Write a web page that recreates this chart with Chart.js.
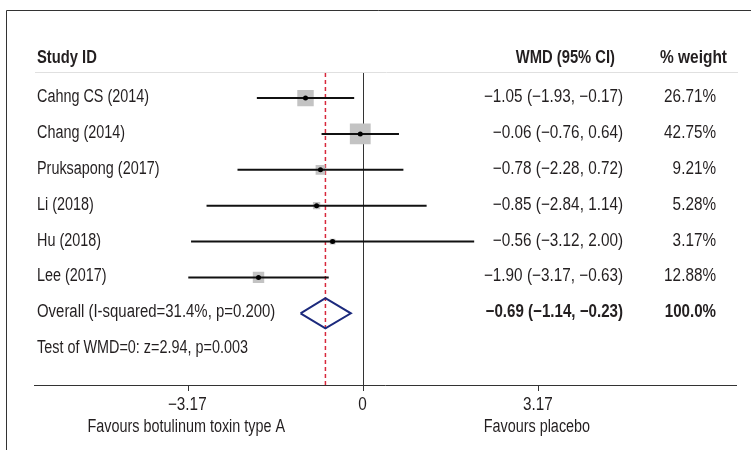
<!DOCTYPE html>
<html>
<head>
<meta charset="utf-8">
<script src="https://cdn.jsdelivr.net/npm/chart.js@4"></script>
<style>
  body { margin: 0; background: #fff; }
  #wrap { width: 751px; height: 450px; }
</style>
</head>
<body>
<div id="wrap"><canvas id="forest" width="751" height="450"></canvas></div>
<script>
const studies = ["Cahng CS (2014)", "Chang (2014)", "Pruksapong (2017)", "Li (2018)", "Hu (2018)", "Lee (2017)"];
const wmd = [-1.05, -0.06, -0.78, -0.85, -0.56, -1.90];
const ciLow = [-1.93, -0.76, -2.28, -2.84, -3.12, -3.17];
const ciHigh = [-0.17, 0.64, 0.72, 1.14, 2.00, -0.63];
const weights = [26.71, 42.75, 9.21, 5.28, 3.17, 12.88];

const overallWmd = -0.69;
const overallLow = -1.14;
const overallHigh = -0.23;
const overallLabel = "Overall (I-squared=31.4%, p=0.200)";
const testLabel = "Test of WMD=0: z=2.94, p=0.003";

const tickValues = [-3.17, 0, 3.17];
const tickLabels = ["\u22123.17", "0", "3.17"];
const sideLabels = ["Favours botulinum toxin type A", "", "Favours placebo"];

const FONT = "'Liberation Sans', Arial, sans-serif";
const TEXT = "#231f20";

// rows: studies on 1..6, overall on 7, test line on 8
const rows = studies.map((s, i) => i + 1);
const overallRow = studies.length + 1;
const testRow = studies.length + 2;

const fmt = v => (v < 0 ? "\u2212" : "") + Math.abs(v).toFixed(2);

// reference uses a condensed face, so squeeze the text horizontally
function text(c, str, x, y, align, bold, sx) {
  c.save();
  c.font = (bold ? "bold " : "") + "18px " + FONT;
  c.textAlign = align;
  c.translate(x, y);
  c.scale(sx || (bold ? 0.82 : 0.8), 1);
  c.fillText(str, 0, 0);
  c.restore();
}

const ciSets = studies.map((s, i) => ({
  type: "line",
  data: [{ x: ciLow[i], y: rows[i] }, { x: ciHigh[i], y: rows[i] }],
  borderColor: "#111",
  borderWidth: 2,
  pointRadius: 0,
  order: 1
}));

// text columns, frame and header line
const tablePlugin = {
  id: "table",
  beforeDraw(chart) {
    const c = chart.ctx;
    c.save();
    c.strokeStyle = "#333";
    c.lineWidth = 1;
    c.beginPath();
    c.moveTo(6.5, 450);
    c.lineTo(6.5, 10.5);
    c.lineTo(751, 10.5);
    c.stroke();
    c.strokeStyle = "#e0e0e0";
    c.beginPath();
    c.moveTo(35, 72.5);
    c.lineTo(738, 72.5);
    c.stroke();
    c.restore();
  },
  afterDraw(chart) {
    const c = chart.ctx;
    const y = chart.scales.y;
    const x = chart.scales.x;
    c.save();
    c.fillStyle = TEXT;
    c.textBaseline = "middle";

    text(c, "Study ID", 37, 58, "left", true);
    text(c, "WMD (95% CI)", 615, 58, "right", true);
    text(c, "% weight", 727, 58, "right", true, 0.86);

    studies.forEach((s, i) => {
      const py = y.getPixelForValue(rows[i]) - 1;
      text(c, s, 37, py, "left");
      text(c, `${fmt(wmd[i])} (${fmt(ciLow[i])}, ${fmt(ciHigh[i])})`, 623, py, "right", false, 0.85);
      text(c, weights[i].toFixed(2) + "%", 716, py, "right", false, 0.85);
    });

    let py = y.getPixelForValue(overallRow) - 1;
    text(c, overallLabel, 37, py, "left", false, 0.83);
    text(c, `${fmt(overallWmd)} (${fmt(overallLow)}, ${fmt(overallHigh)})`, 623, py, "right", true, 0.84);
    text(c, "100.0%", 716, py, "right", true, 0.84);

    py = y.getPixelForValue(testRow) - 1;
    text(c, testLabel, 37, py, "left");

    // axis labels under the ticks
    tickValues.forEach((v, i) => {
      const px = x.getPixelForValue(v);
      text(c, tickLabels[i], px - 1, 405, "center", false, 0.85);
      if (sideLabels[i]) text(c, sideLabels[i], px - 2, 427, "center");
    });
    c.restore();
  }
};

new Chart(document.getElementById("forest"), {
  type: "scatter",
  data: {
    datasets: [
      {
        // point estimates
        data: wmd.map((v, i) => ({ x: v, y: rows[i] })),
        backgroundColor: "#000",
        borderWidth: 0,
        pointRadius: 2.5,
        order: 0
      },
      ...ciSets,
      {
        // weight boxes
        data: wmd.map((v, i) => ({ x: v, y: rows[i] })),
        pointStyle: "rect",
        backgroundColor: "#c3c3c3",
        borderWidth: 0,
        pointRadius: weights.map(w => 2.25 * Math.sqrt(w)),
        order: 2
      },
      {
        // pooled diamond
        type: "line",
        data: [
          { x: overallLow, y: overallRow },
          { x: overallWmd, y: overallRow - 0.42 },
          { x: overallHigh, y: overallRow },
          { x: overallWmd, y: overallRow + 0.42 },
          { x: overallLow, y: overallRow }
        ],
        borderColor: "#1c2a7d",
        borderWidth: 2,
        pointRadius: 0,
        tension: 0,
        order: 1
      },
      {
        // pooled estimate reference
        type: "line",
        data: [{ x: overallWmd, y: 0.3 }, { x: overallWmd, y: 9 }],
        borderColor: "#d8283c",
        borderWidth: 1.5,
        borderDash: [4, 3],
        pointRadius: 0,
        order: 3
      }
    ]
  },
  options: {
    responsive: false,
    animation: false,
    layout: { padding: { left: 34, right: 12, top: 73, bottom: 0 } },
    plugins: { legend: { display: false }, tooltip: { enabled: false } },
    scales: {
      x: {
        type: "linear",
        min: -5.96,
        max: 6.74,
        afterBuildTicks: s => { s.ticks = tickValues.map(v => ({ value: v })); },
        afterFit: s => { s.height = 65; },
        border: { color: "#333", width: 1 },
        grid: {
          color: ctx => (ctx.tick && ctx.tick.value === 0 ? "#333" : "rgba(0,0,0,0)"),
          tickColor: "#333",
          tickLength: 6,
          lineWidth: 1
        },
        ticks: { display: false }
      },
      y: {
        type: "linear",
        display: false,
        reverse: true,
        min: 0.3,
        max: 9
      }
    }
  },
  plugins: [tablePlugin]
});
</script>
</body>
</html>
